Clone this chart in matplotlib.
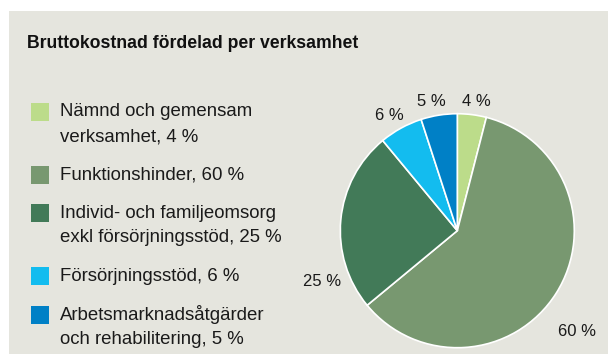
import matplotlib
matplotlib.use("Agg")
import matplotlib.pyplot as plt
from matplotlib.patches import Rectangle

title = "Bruttokostnad fördelad per verksamhet"
categories = [
    "Nämnd och gemensam\nverksamhet, 4 %",
    "Funktionshinder, 60 %",
    "Individ- och familjeomsorg\nexkl försörjningsstöd, 25 %",
    "Försörjningsstöd, 6 %",
    "Arbetsmarknadsåtgärder\noch rehabilitering, 5 %",
]
values = [4, 60, 25, 6, 5]
colors = ["#bcdc8a", "#789870", "#427a58", "#13bcef", "#0080c6"]

W, H = 608, 354
fig = plt.figure(figsize=(W / 100, H / 100), dpi=100)
fig.patch.set_facecolor("white")

# grey panel behind everything
bg = fig.add_axes([0, 0, 1, 1])
bg.set_xlim(0, W)
bg.set_ylim(H, 0)
bg.axis("off")
bg.add_patch(Rectangle((9, 11), W - 9, H - 11, facecolor="#e5e5de", edgecolor="none"))

bg.text(27, 44, title, fontsize=12.7, fontweight="bold", family="Liberation Sans",
        va="center", ha="left", color="#111111")

# legend: colour square plus one or two text lines per item
sq_tops = [103, 166, 204, 267, 306]
text_y = [112, 175.5, 213, 276.5, 315]
for top, ty, lab, c in zip(sq_tops, text_y, categories, colors):
    bg.add_patch(Rectangle((31, top), 18, 18, facecolor=c, edgecolor="none"))
    for i, ln in enumerate(lab.split("\n")):
        bg.text(60, ty + 25 * i, ln, fontsize=13.4, family="Liberation Sans", color="#1a1a1a",
                va="center", ha="left")

# pie
cx, cy, r = 457.3, 230.7, 117
ax = fig.add_axes([(cx - r) / W, 1 - (cy + r) / H, 2 * r / W, 2 * r / H])
wedges, texts = ax.pie(values, colors=colors, startangle=90, counterclock=False,
                       wedgeprops=dict(edgecolor="white", linewidth=1.2),
                       labels=[f"{v} %" for v in values],
                       textprops=dict(fontsize=12, family="Liberation Sans", color="#1a1a1a"))
label_pos = [(476.7, 101.7), (576.7, 331.7), (321.7, 281), (389.3, 115.7), (431.7, 101.7)]
for t, (x, y) in zip(texts, label_pos):
    t.set_transform(bg.transData)
    t.set_position((x, y))
    t.set_ha("center")
    t.set_va("center")
ax.set_aspect("equal")
ax.set_xlim(-1, 1)
ax.set_ylim(-1, 1)

fig.savefig("out.png", dpi=100, facecolor="white")
